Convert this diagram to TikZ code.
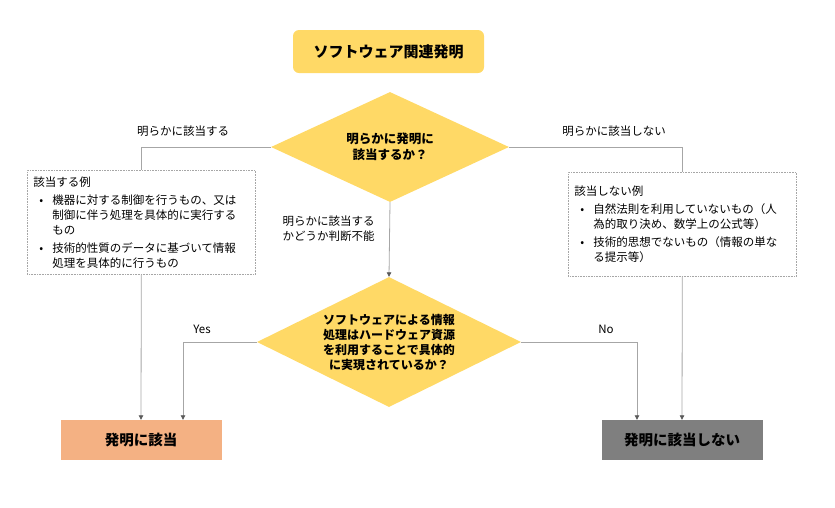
\documentclass[tikz,border=0pt]{standalone}
\usepackage{fontspec}
\setmainfont{Noto Sans CJK JP}
\usetikzlibrary{shapes.geometric,arrows.meta}

\definecolor{kiiro}{HTML}{FFD966}
\definecolor{daidai}{HTML}{F4B183}
\definecolor{haiiro}{HTML}{7F7F7F}
\definecolor{senIro}{HTML}{A6A6A6}

\newcommand{\reiList}[1]{\begin{list}{\textbullet}{\setlength{\leftmargin}{19pt}\setlength{\labelsep}{9pt}%
  \setlength{\itemsep}{3pt}\setlength{\topsep}{3pt}\setlength{\parsep}{0pt}\setlength{\partopsep}{0pt}}#1\end{list}}

\begin{document}
\begin{tikzpicture}[x=1pt,y=-1pt,
    hishigata/.style={diamond,fill=kiiro,inner sep=0pt,align=center,font=\bfseries},
    reibox/.style={draw=senIro,densely dotted,line width=0.6pt,anchor=north west,text width=216pt,
        inner xsep=6pt,minimum height=104pt,font=\fontsize{11.5}{15}\selectfont},
    kekka/.style={minimum width=161pt,minimum height=40pt,font=\fontsize{14.5}{17}\selectfont\bfseries},
    sen/.style={draw=senIro,line width=0.8pt},
    ya/.style={sen,-{Triangle[length=4.5pt,width=4.5pt,color=black!65]}},
    lbl/.style={font=\fontsize{11.5}{15}\selectfont}]
    \useasboundingbox (0,0) rectangle (835,507);

    % top
    \node[fill=kiiro,rounded corners=6pt,minimum width=191pt,minimum height=43pt,
        font=\fontsize{15}{18}\selectfont\bfseries] (title) at (388.5,51.5) {ソフトウェア関連発明};

    \node[hishigata,minimum width=238pt,minimum height=110pt,aspect=2.16,
        font=\fontsize{12.5}{16}\selectfont\bfseries] (q1) at (390,147) {明らかに発明に\\該当するか？};

    % examples
    \node[reibox] (gaitorei) at (27,170) {該当する例
    \reiList{\item 機器に対する制御を行うもの、又は\\制御に伴う処理を具体的に実行する\\もの
    \item 技術的性質のデータに基づいて情報\\処理を具体的に行うもの}};

    \node[reibox] (higaitorei) at (568,172) {該当しない例
    \reiList{\item 自然法則を利用していないもの（人\\為的取り決め、数学上の公式等）
    \item 技術的思想でないもの（情報の単な\\る提示等）}};

    % second question
    \node[hishigata,minimum width=264pt,minimum height=130pt,aspect=2.03,
        font=\fontsize{12}{15}\selectfont\bfseries] (q2) at (389,342)
        {ソフトウェアによる情報\\処理はハードウェア資源\\を利用することで具体的\\に実現されているか？};

    % results
    \node[kekka,fill=daidai] (gaito) at (141,440) {発明に該当};
    \node[kekka,fill=haiiro] (higaito) at (682,440) {発明に該当しない};

    % connectors
    \draw[sen] (q1.west) -| (gaitorei.north);
    \draw[sen] (q1.east) -| (higaitorei.north);
    \draw[ya] (q1.south) -- (q2.north);
    \draw[ya] (gaitorei.south) -- (gaito.north);
    \draw[ya] (higaitorei.south) -- (higaito.north);
    \draw[ya] (q2.west) -| ([xshift=42pt]gaito.north);
    \draw[ya] (q2.east) -| ([xshift=-45pt]higaito.north);

    % labels
    \node[lbl] (l1) at (183,131) {明らかに該当する};
    \node[lbl] (l2) at (614,131) {明らかに該当しない};
    \node[lbl,anchor=west,align=left] (l3) at (279,229) {明らかに該当する\\かどうか判断不能};
    \node[lbl] (lyes) at (202,329) {Yes};
    \node[lbl] (lno) at (606,329) {No};
\end{tikzpicture}
\end{document}
